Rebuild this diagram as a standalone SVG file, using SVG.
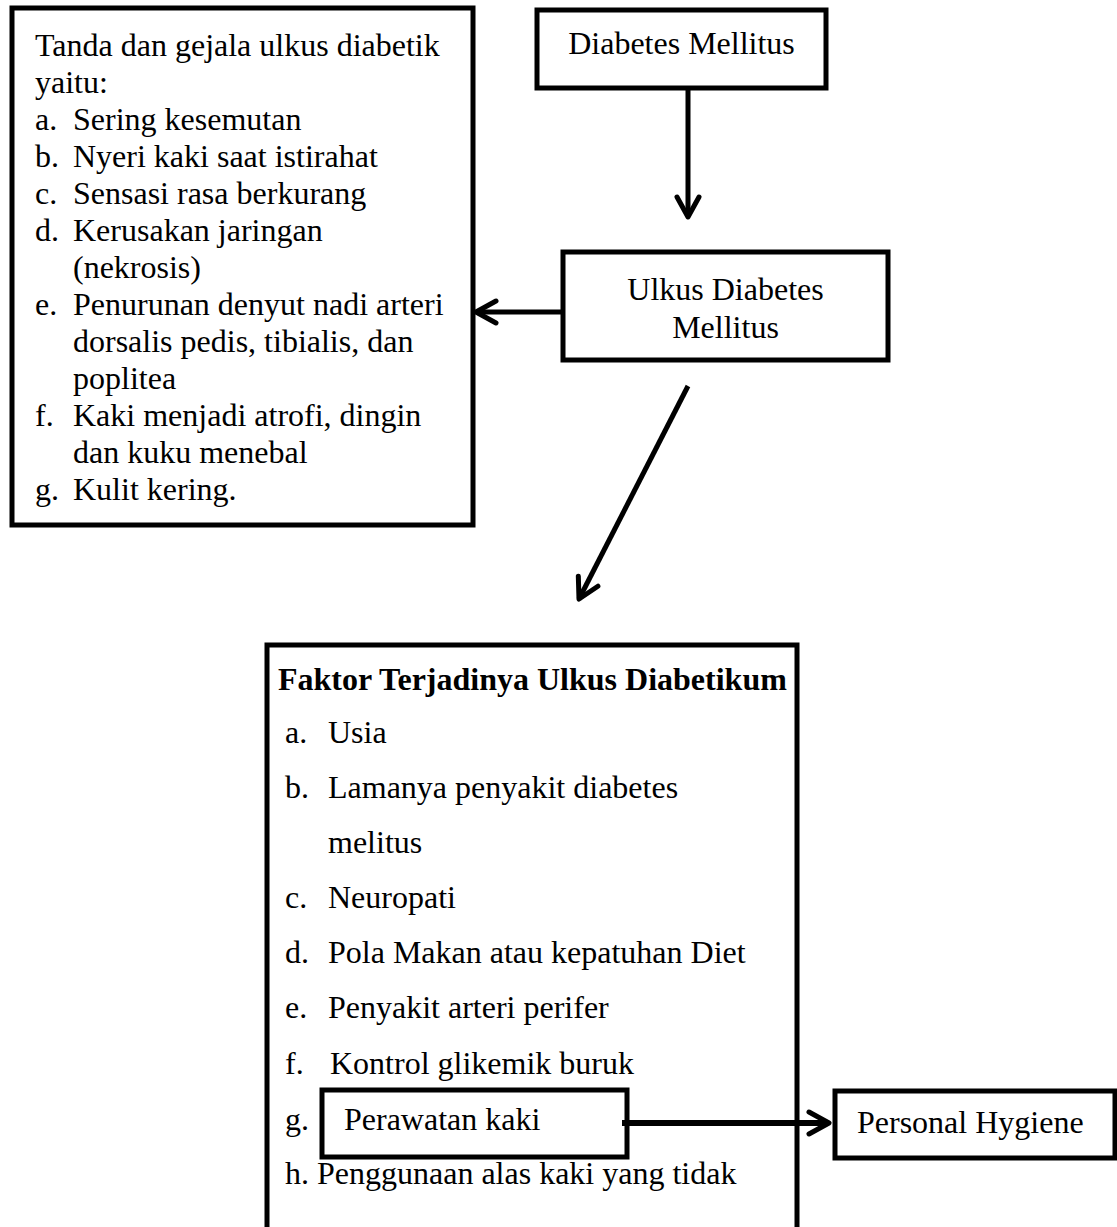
<svg xmlns="http://www.w3.org/2000/svg" width="1117" height="1227" viewBox="0 0 1117 1227">
<style>
.box{fill:#fff;stroke:#000;stroke-width:5}
.t{font-family:"Liberation Serif","Times New Roman",serif;font-size:32px;fill:#000}
.b{font-weight:bold}
.c{stroke:#000;stroke-width:5;fill:none}
</style>
<defs>
<marker id="arr" markerUnits="userSpaceOnUse" viewBox="-25 -15 30 30" markerWidth="30" markerHeight="30" refX="0" refY="0" orient="auto" overflow="visible">
<path d="M -20 -11 L 0 0 L -20 11" fill="none" stroke="#000" stroke-width="5" stroke-linecap="round" stroke-linejoin="round"/>
</marker>
</defs>
<rect width="1117" height="1227" fill="#fff"/>
<g id="tanda">
<rect class="box" x="12" y="8" width="461" height="517"/>
<text class="t" x="35" y="56">Tanda dan gejala ulkus diabetik</text>
<text class="t" x="35" y="93">yaitu:</text>
<text class="t" x="35" y="130">a.</text><text class="t" x="73" y="130">Sering kesemutan</text>
<text class="t" x="35" y="167">b.</text><text class="t" x="73" y="167">Nyeri kaki saat istirahat</text>
<text class="t" x="35" y="204">c.</text><text class="t" x="73" y="204">Sensasi rasa berkurang</text>
<text class="t" x="35" y="241">d.</text><text class="t" x="73" y="241">Kerusakan jaringan</text>
<text class="t" x="73" y="278">(nekrosis)</text>
<text class="t" x="35" y="315">e.</text><text class="t" x="73" y="315">Penurunan denyut nadi arteri</text>
<text class="t" x="73" y="352">dorsalis pedis, tibialis, dan</text>
<text class="t" x="73" y="389">poplitea</text>
<text class="t" x="35" y="426">f.</text><text class="t" x="73" y="426">Kaki menjadi atrofi, dingin</text>
<text class="t" x="73" y="463">dan kuku menebal</text>
<text class="t" x="35" y="500">g.</text><text class="t" x="73" y="500">Kulit kering.</text>
</g>
<g id="dm">
<rect class="box" x="537" y="10" width="289" height="78"/>
<text class="t" x="681.5" y="54" text-anchor="middle">Diabetes Mellitus</text>
</g>
<g id="udm">
<rect class="box" x="563" y="252" width="325" height="108"/>
<text class="t" x="725.5" y="300" text-anchor="middle">Ulkus Diabetes</text>
<text class="t" x="725.5" y="338" text-anchor="middle">Mellitus</text>
</g>
<g id="faktor">
<path class="box" d="M267 1235 V645 H797 V1235"/>
<text class="t b" x="278" y="690">Faktor Terjadinya Ulkus Diabetikum</text>
<text class="t" x="285" y="743">a.</text><text class="t" x="328" y="743">Usia</text>
<text class="t" x="285" y="798">b.</text><text class="t" x="328" y="798">Lamanya penyakit diabetes</text>
<text class="t" x="328" y="853">melitus</text>
<text class="t" x="285" y="908">c.</text><text class="t" x="328" y="908">Neuropati</text>
<text class="t" x="285" y="963">d.</text><text class="t" x="328" y="963">Pola Makan atau kepatuhan Diet</text>
<text class="t" x="285" y="1018">e.</text><text class="t" x="328" y="1018">Penyakit arteri perifer</text>
<text class="t" x="285" y="1074">f.</text><text class="t" x="330" y="1074">Kontrol glikemik buruk</text>
<text class="t" x="285" y="1130">g.</text>
<text class="t" x="285" y="1184">h. Penggunaan alas kaki yang tidak</text>
</g>
<g id="perawatan">
<rect class="box" x="322" y="1090" width="305" height="67"/>
<text class="t" x="344" y="1130">Perawatan kaki</text>
</g>
<g id="hygiene">
<rect class="box" x="835" y="1091" width="280" height="67"/>
<text class="t" x="857" y="1133">Personal Hygiene</text>
</g>
<g id="connectors">
<line class="c" x1="688" y1="88" x2="688" y2="217" marker-end="url(#arr)"/>
<line class="c" x1="563" y1="312" x2="476" y2="312" marker-end="url(#arr)"/>
<line class="c" x1="688" y1="386" x2="579" y2="599" marker-end="url(#arr)"/>
<line class="c" x1="622" y1="1123" x2="829" y2="1123" style="stroke-width:6" marker-end="url(#arr)"/>
</g>
</svg>
